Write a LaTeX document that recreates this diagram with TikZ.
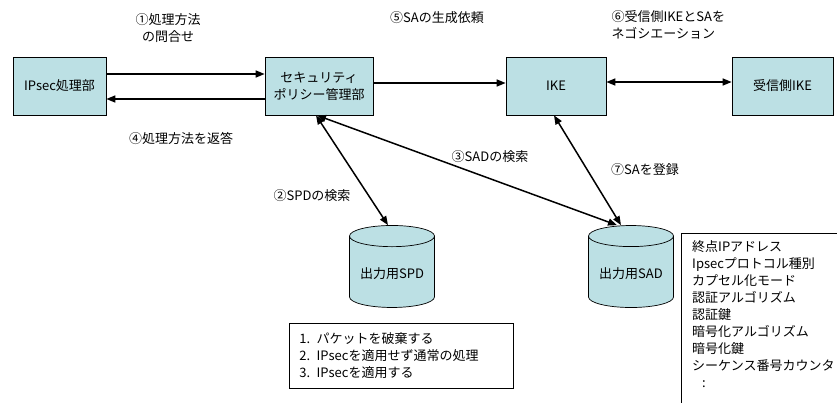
\documentclass[tikz,border=0pt]{standalone}
\usepackage{fontspec}
\setmainfont{Noto Sans CJK JP}
\usetikzlibrary{arrows.meta,shapes.geometric}
\definecolor{boxcyan}{RGB}{188,224,228}

\begin{document}
\begin{tikzpicture}[x=1pt,y=-1pt,font=\fontsize{13}{17}\selectfont,
		>={Triangle[length=9pt,width=7pt]},
		block/.style={draw, fill=boxcyan, line width=0.7pt, minimum height=58pt, align=center},
		store/.style={draw, fill=boxcyan, line width=0.7pt, cylinder, shape border rotate=90,
			aspect=0.3, minimum width=85pt, minimum height=82pt},
		listbox/.style={draw, line width=0.7pt, anchor=north west, align=left},
		every edge/.style={draw, ->, line width=1.5pt}]
		\useasboundingbox (0,0) rectangle (837,402);
		% Nodes
		\node[block, minimum width=93pt] (ipsec) at (59.5,86) {IPsec処理部};
		\node[block, minimum width=108pt] (spm) at (319,86) {セキュリティ\\ポリシー管理部};
		\node[block, minimum width=100pt] (ike) at (556,86) {IKE};
		\node[block, minimum width=101pt] (rike) at (782.5,86) {受信側IKE};
		\node[store] (spd) at (392,274) {出力用SPD};
		\node[store] (sad) at (631,274) {出力用SAD};
		\node[listbox, text width=204pt, inner xsep=10pt, minimum height=65pt] (act) at (289,323)
			{1. パケットを破棄する\\2. IPsecを適用せず通常の処理\\3. IPsecを適用する};
		\node[anchor=north west, text width=200pt, inner xsep=11pt, inner ysep=7pt, align=left] (sapar) at (681,233)
			{終点IPアドレス\\Ipsecプロトコル種別\\カプセル化モード\\認証アルゴリズム\\認証鍵\\
			暗号化アルゴリズム\\暗号化鍵\\シーケンス番号カウンタ\\\hspace{10pt}:};
		\draw[line width=0.7pt] (sapar.north west) rectangle ([yshift=-20pt]sapar.south east);
		% Labels
		\node[align=center] (l1) at (168,28) {①処理方法\\の問合せ};
		\node (l4) at (181,138) {④処理方法を返答};
		\node (l2) at (312,196) {②SPDの検索};
		\node (l3) at (490,157) {③SADの検索};
		\node (l5) at (437,18) {⑤SAの生成依頼};
		\node[anchor=west, align=left] (l6) at (608,25) {⑥受信側IKEとSAを\\ネゴシエーション};
		\node (l7) at (645,170) {⑦SAを登録};
		% Edges
		\draw ([yshift=12pt]ipsec.east) edge ([yshift=12pt]spm.west);
		\draw ([yshift=-13pt]spm.west) edge ([yshift=-13pt]ipsec.east);
		\draw ([yshift=3pt]spm.east) edge ([yshift=3pt]ike.west);
		\draw ([yshift=4pt]ike.east) edge[<->] ([yshift=4pt]rike.west);
		\draw ([xshift=-3pt]spm.south) edge[<->] ([xshift=-4pt]spd.north);
		\draw ([xshift=-2pt]spm.south) edge[<->] ([xshift=-14pt]sad.north);
		\draw ([xshift=-2pt]ike.south) edge[<->] ([xshift=-10pt]sad.north);
	\end{tikzpicture}
\end{document}
